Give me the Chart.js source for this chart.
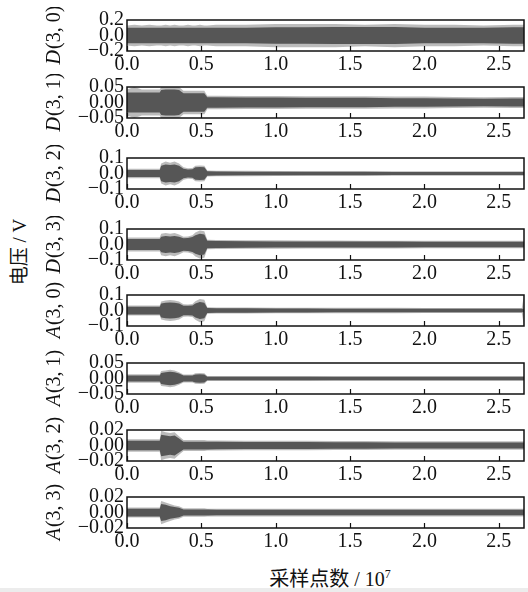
<!DOCTYPE html>
<html>
<head>
<meta charset="utf-8">
<script src="https://cdn.jsdelivr.net/npm/chart.js@4.4.1/dist/chart.umd.min.js"></script>
<style>
  body { margin: 0; background: #fff; }
  #wrap { position: relative; width: 528px; height: 592px; overflow: hidden; }
  canvas { position: absolute; left: 0; }
  .ttl { position: absolute; font-family: 'Liberation Serif', 'Noto Sans CJK SC', serif; color: #111; white-space: nowrap; }
  #ylab { left: 17px; top: 252px; font-size: 19px; transform: translate(-50%, -50%) rotate(-90deg); }
  #xlab { left: 330px; top: 577px; font-size: 20px; transform: translate(-50%, -50%); }
  #xlab sup { font-size: 12px; vertical-align: 8px; }
  #strip { position: absolute; left: 0; top: 588px; width: 528px; height: 4px; background: #ececec; }
</style>
</head>
<body>
<div id="wrap">
  <div id="ylab" class="ttl">电压 / V</div>
  <div id="xlab" class="ttl">采样点数 / 10<sup>7</sup></div>
  <div id="strip"></div>
</div>
<script>
// sample positions (units of 10^7 samples)
const xPos = [0, 0.05, 0.1, 0.15, 0.2, 0.22, 0.23, 0.26, 0.29, 0.32, 0.35, 0.38, 0.41, 0.44, 0.46, 0.49, 0.52, 0.54, 0.6, 0.8, 1.0, 1.2, 1.4, 1.6, 1.8, 2.0, 2.2, 2.4, 2.6, 2.655, 2.67]

const panelLabels = ['D(3, 0)', 'D(3, 1)', 'D(3, 2)', 'D(3, 3)', 'A(3, 0)', 'A(3, 1)', 'A(3, 2)', 'A(3, 3)']
const yLimits = [0.2, 0.05, 0.1, 0.1, 0.1, 0.05, 0.02, 0.02]
const xTicks = [0.0, 0.5, 1.0, 1.5, 2.0, 2.5]

// envelope of the signal: dense core and outer peaks (half-amplitude, V)
const d30Core = [0.10,0.10,0.10,0.10,0.10,0.10,0.10,0.10,0.10,0.10,0.10,0.10,0.10,0.10,0.10,0.10,0.10,0.10,0.10,0.10,0.105,0.105,0.11,0.11,0.11,0.10,0.10,0.10,0.105,0.105,0.105]
const d30Peak = [0.13,0.14,0.13,0.14,0.13,0.13,0.13,0.14,0.13,0.14,0.13,0.13,0.14,0.13,0.13,0.14,0.13,0.13,0.14,0.14,0.15,0.15,0.15,0.14,0.15,0.14,0.14,0.13,0.14,0.14,0.14]
const d31Core = [0.032,0.032,0.032,0.032,0.032,0.032,0.040,0.042,0.042,0.042,0.040,0.030,0.030,0.030,0.030,0.030,0.030,0.017,0.017,0.016,0.016,0.015,0.015,0.015,0.014,0.014,0.013,0.012,0.013,0.013,0.013]
const d31Peak = [0.042,0.050,0.042,0.042,0.042,0.042,0.050,0.050,0.050,0.050,0.050,0.038,0.038,0.038,0.038,0.038,0.038,0.022,0.022,0.021,0.021,0.020,0.020,0.020,0.019,0.019,0.018,0.017,0.018,0.018,0.018]
const d32Core = [0.022,0.022,0.022,0.022,0.022,0.022,0.050,0.058,0.055,0.058,0.050,0.030,0.026,0.028,0.040,0.042,0.040,0.014,0.013,0.012,0.012,0.011,0.011,0.011,0.010,0.010,0.010,0.010,0.010,0.010,0.010]
const d32Peak = [0.030,0.030,0.030,0.030,0.030,0.030,0.065,0.078,0.070,0.078,0.065,0.040,0.034,0.036,0.050,0.052,0.050,0.019,0.018,0.017,0.016,0.015,0.015,0.015,0.014,0.014,0.014,0.014,0.014,0.014,0.014]
const d33Core = [0.035,0.035,0.035,0.035,0.035,0.035,0.050,0.055,0.052,0.055,0.050,0.040,0.042,0.048,0.060,0.070,0.065,0.024,0.022,0.021,0.020,0.020,0.020,0.019,0.019,0.018,0.018,0.018,0.018,0.018,0.018]
const d33Peak = [0.045,0.045,0.045,0.045,0.045,0.045,0.070,0.075,0.070,0.075,0.065,0.050,0.052,0.060,0.078,0.090,0.085,0.030,0.029,0.028,0.027,0.026,0.026,0.025,0.025,0.024,0.024,0.024,0.024,0.024,0.024]
const a30Core = [0.025,0.025,0.025,0.025,0.025,0.025,0.045,0.050,0.052,0.050,0.045,0.030,0.030,0.032,0.045,0.055,0.050,0.016,0.015,0.014,0.013,0.013,0.012,0.012,0.012,0.012,0.011,0.011,0.011,0.011,0.011]
const a30Peak = [0.032,0.032,0.032,0.032,0.032,0.032,0.058,0.065,0.068,0.065,0.058,0.040,0.038,0.042,0.060,0.075,0.070,0.021,0.020,0.019,0.018,0.018,0.017,0.017,0.017,0.016,0.016,0.016,0.016,0.016,0.100]
const a31Core = [0.010,0.010,0.010,0.010,0.010,0.010,0.018,0.020,0.022,0.020,0.016,0.010,0.010,0.010,0.013,0.014,0.013,0.006,0.006,0.006,0.006,0.006,0.0055,0.0055,0.0055,0.0055,0.0055,0.0055,0.0055,0.0055,0.0055]
const a31Peak = [0.014,0.014,0.014,0.014,0.014,0.014,0.024,0.026,0.028,0.026,0.020,0.013,0.013,0.013,0.017,0.018,0.017,0.008,0.008,0.008,0.008,0.008,0.0075,0.0075,0.0075,0.0075,0.0075,0.0075,0.0075,0.0075,0.0075]
const a32Core = [0.006,0.006,0.006,0.006,0.006,0.006,0.014,0.013,0.012,0.013,0.009,0.005,0.005,0.005,0.005,0.005,0.005,0.005,0.0048,0.0045,0.0045,0.0045,0.0042,0.0042,0.004,0.004,0.004,0.004,0.004,0.004,0.004]
const a32Peak = [0.008,0.008,0.008,0.008,0.008,0.008,0.019,0.017,0.016,0.017,0.012,0.007,0.007,0.007,0.007,0.007,0.007,0.0065,0.0065,0.006,0.006,0.006,0.0058,0.0058,0.0055,0.0055,0.0055,0.0055,0.0055,0.0055,0.0055]
const a33Core = [0.005,0.005,0.005,0.005,0.005,0.005,0.011,0.010,0.008,0.007,0.006,0.004,0.004,0.004,0.004,0.004,0.004,0.0038,0.0037,0.0036,0.0036,0.0035,0.0035,0.0035,0.0035,0.0035,0.0035,0.0035,0.0035,0.0035,0.0035]
const a33Peak = [0.0065,0.0065,0.0065,0.0065,0.0065,0.0065,0.015,0.013,0.011,0.009,0.008,0.0055,0.0055,0.0055,0.0055,0.0055,0.0055,0.005,0.005,0.005,0.005,0.005,0.005,0.005,0.005,0.005,0.005,0.005,0.005,0.005,0.005]

const cores = [d30Core, d31Core, d32Core, d33Core, a30Core, a31Core, a32Core, a33Core]
const peaks = [d30Peak, d31Peak, d32Peak, d33Peak, a30Peak, a31Peak, a32Peak, a33Peak]

// top of each plot box in the page
const panelTops = [17, 84, 155, 226, 292, 360, 427, 494]
const boxH = 34
const padTop = 10
const canvasH = 66
const serif = 'Liberation Serif'

Chart.defaults.font.family = serif
Chart.defaults.color = '#111'

//draws the frame, inward ticks and rotated panel name
const framePlugin = {
	id: 'frame',
	afterDraw(chart, args, opts) {
		const ctx = chart.ctx
		const a = chart.chartArea
		const x = chart.scales.x
		ctx.save()
		ctx.strokeStyle = '#111'
		ctx.lineWidth = 1.5
		ctx.strokeRect(a.left, a.top, a.right - a.left, a.bottom - a.top)
		ctx.lineWidth = 1.2
		x.ticks.forEach(t => {
			const px = Math.round(x.getPixelForValue(t.value)) + 0.5
			ctx.beginPath()
			ctx.moveTo(px, a.bottom)
			ctx.lineTo(px, a.bottom - 5)
			ctx.stroke()
		})
		// panel name, first letter italic
		const head = opts.label.slice(0, 1)
		const tail = opts.label.slice(1)
		ctx.translate(55, (a.top + a.bottom) / 2)
		ctx.rotate(-Math.PI / 2)
		ctx.fillStyle = '#111'
		ctx.textBaseline = 'middle'
		ctx.font = 'italic 20px "Liberation Serif"'
		const w1 = ctx.measureText(head).width
		ctx.font = '20px "Liberation Serif"'
		const w2 = ctx.measureText(tail).width
		const start = -(w1 + w2) / 2
		ctx.font = 'italic 20px "Liberation Serif"'
		ctx.fillText(head, start, 0)
		ctx.font = '20px "Liberation Serif"'
		ctx.fillText(tail, start + w1 + 1, 0)
		ctx.restore()
	}
}

const wrap = document.getElementById('wrap')

panelLabels.forEach((label, i) => {
	const canvas = document.createElement('canvas')
	canvas.width = 528
	canvas.height = canvasH
	canvas.style.top = (panelTops[i] - padTop) + 'px'
	wrap.appendChild(canvas)

	const lim = yLimits[i]
	const dec = lim >= 0.1 ? 1 : 2
	const pts = (arr, sign) => xPos.map((v, k) => ({ x: v, y: sign * arr[k] }))
	const band = {
		pointRadius: 0,
		borderWidth: 0,
		tension: 0
	}

	new Chart(canvas, {
		type: 'line',
		data: {
			datasets: [
				{ ...band, data: pts(cores[i], 1), fill: '+1', backgroundColor: '#565656' },
				{ ...band, data: pts(cores[i], -1), fill: false },
				{ ...band, data: pts(peaks[i], 1), fill: '+1', backgroundColor: 'rgba(120,120,120,0.5)' },
				{ ...band, data: pts(peaks[i], -1), fill: false }
			]
		},
		options: {
			responsive: false,
			animation: false,
			layout: { padding: { top: padTop, right: 4, left: 0, bottom: 0 } },
			plugins: {
				legend: { display: false },
				tooltip: { enabled: false },
				frame: { label: label }
			},
			scales: {
				x: {
					type: 'linear',
					min: 0,
					max: 2.67,
					grid: { display: false, drawTicks: false },
					border: { display: false },
					afterFit: s => { s.height = canvasH - padTop - boxH },
					afterBuildTicks: s => { s.ticks = xTicks.map(v => ({ value: v })) },
					ticks: {
						autoSkip: false,
						maxRotation: 0,
						padding: 2,
						color: '#111',
						font: { family: serif, size: 20 },
						callback: v => v.toFixed(1)
					}
				},
				y: {
					min: -lim,
					max: lim,
					grid: { display: false, drawTicks: false },
					border: { display: false },
					afterFit: s => { s.width = 127 },
					afterBuildTicks: s => { s.ticks = [-lim, 0, lim].map(v => ({ value: v })) },
					ticks: {
						autoSkip: false,
						padding: 3,
						color: '#111',
						font: { family: serif, size: 20, lineHeight: 1 },
						callback: v => (v < 0 ? '\u2212' : '') + Math.abs(v).toFixed(dec)
					}
				}
			}
		},
		plugins: [framePlugin]
	})
})
</script>
</body>
</html>
